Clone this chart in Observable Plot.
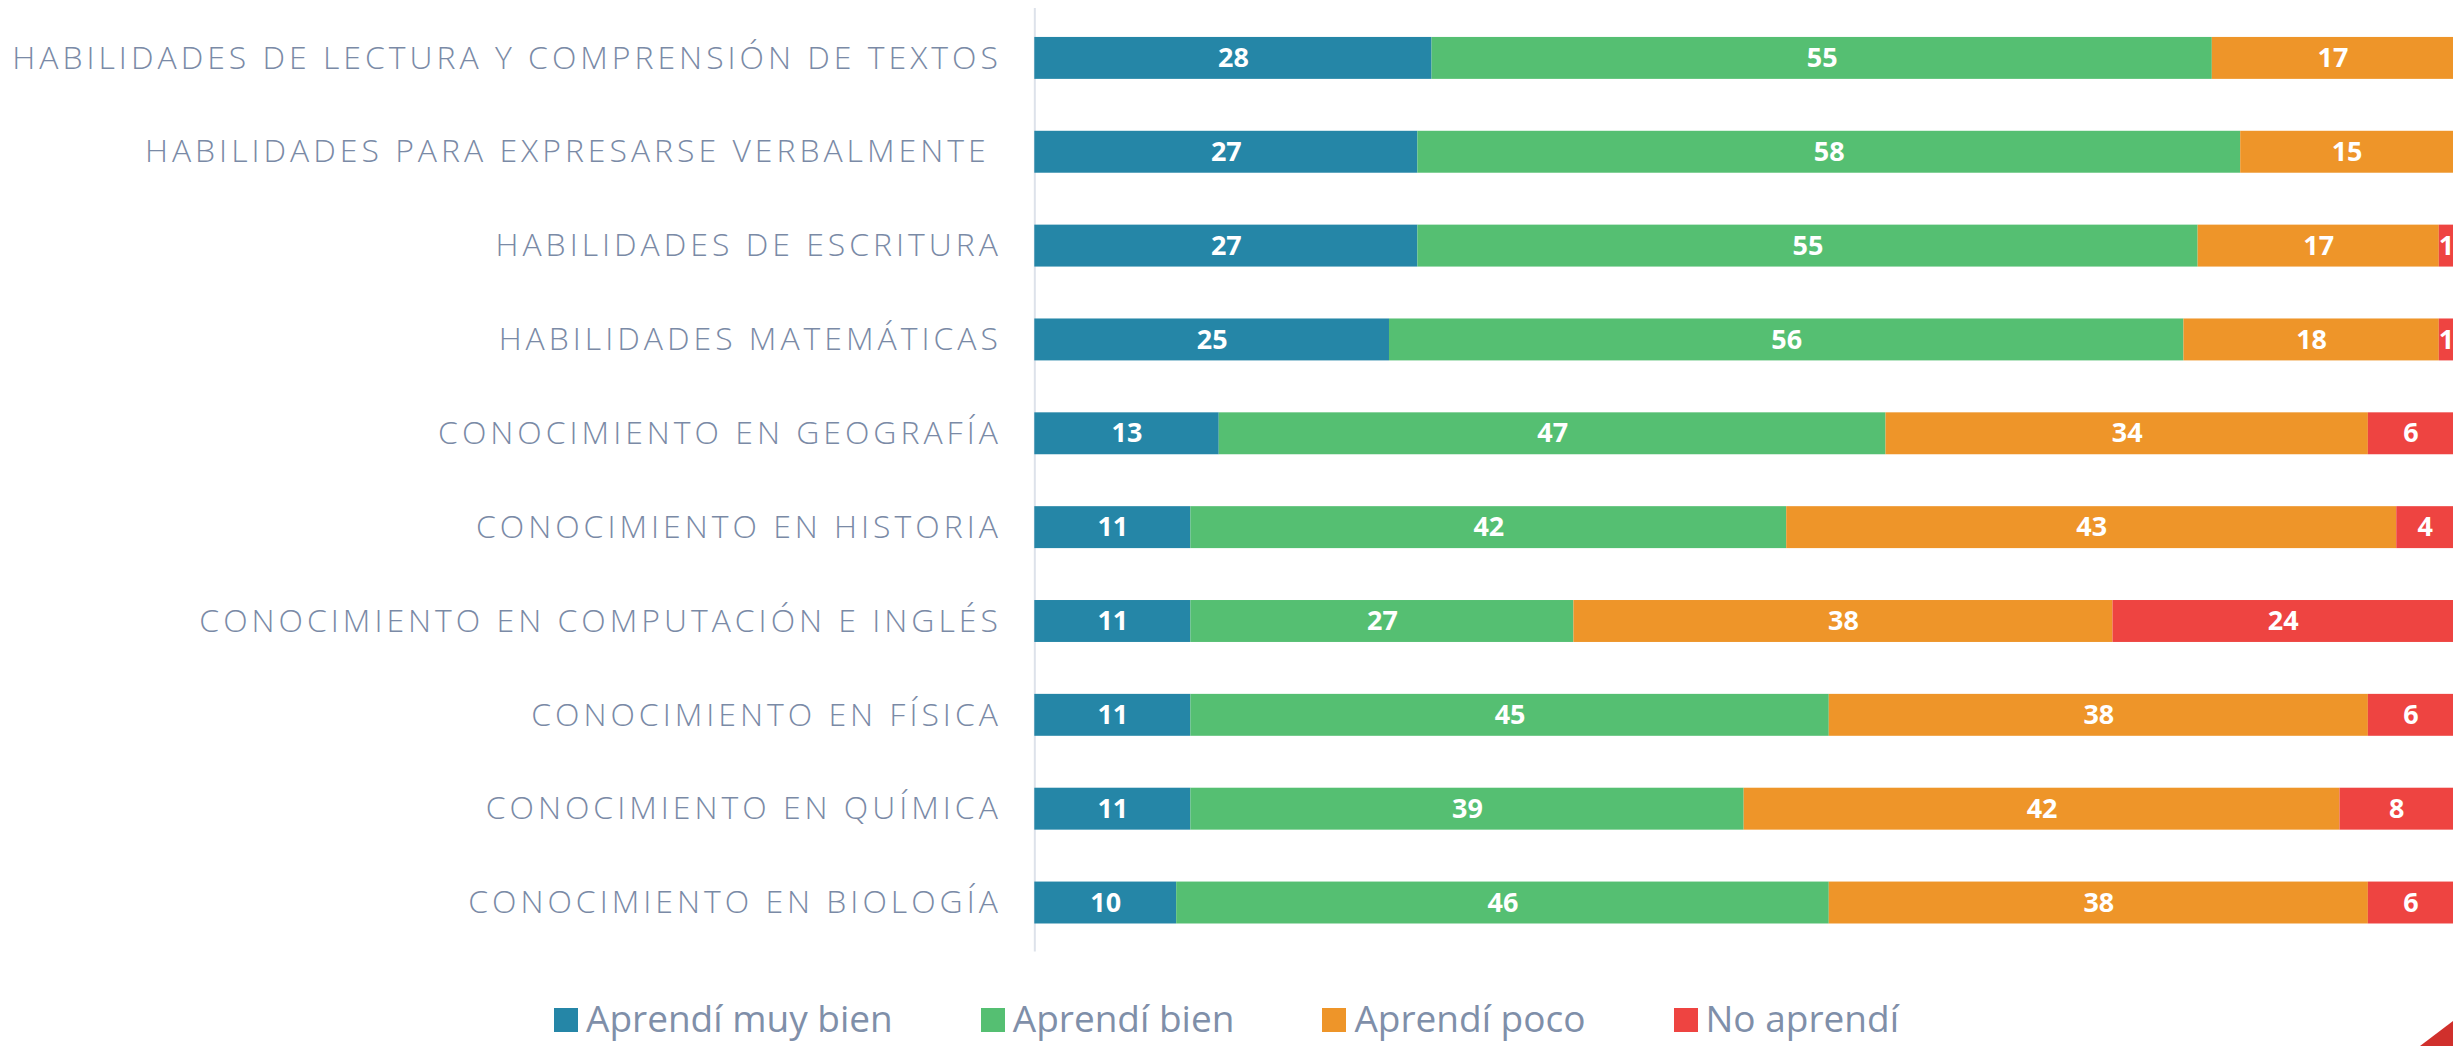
<!DOCTYPE html>
<html>
<head>
<meta charset="utf-8">
<script src="https://cdn.jsdelivr.net/npm/d3@7"></script>
<script src="https://cdn.jsdelivr.net/npm/@observablehq/plot@0.6"></script>
<style>
  html, body { margin: 0; padding: 0; background: #fff; overflow: hidden; width: 2453px; height: 1046px; }
  #chart svg { display: block; font-family: "Open Sans", sans-serif; }
  #chart svg [aria-label="y-axis tick label"] text { letter-spacing: 4px; font-weight: 300; }
  #legend { display: flex; justify-content: center; align-items: center; gap: 88px; margin-top: 42px; height: 40px;
            line-height: 40px; font-family: "Open Sans", sans-serif; font-size: 37px; color: #7f8fa9; width: 2453px; }
  #legend .item { display: flex; align-items: center; gap: 8px; }
  #legend .sw { width: 24px; height: 24px; display: inline-block; margin-top: 4px; }
  #corner { position: absolute; right: 0; bottom: 0; width: 33px; height: 25px; background: #d0302c;
            clip-path: polygon(100% 0, 100% 100%, 0 100%); }
</style>
</head>
<body>
<div id="chart"></div>
<div id="legend"></div>
<div id="corner"></div>
<script>
const categories = [
  "HABILIDADES DE LECTURA Y COMPRENSIÓN DE TEXTOS",
  "HABILIDADES PARA EXPRESARSE VERBALMENTE\u00a0",
  "HABILIDADES DE ESCRITURA",
  "HABILIDADES MATEMÁTICAS",
  "CONOCIMIENTO EN GEOGRAFÍA",
  "CONOCIMIENTO EN HISTORIA",
  "CONOCIMIENTO EN COMPUTACIÓN E INGLÉS",
  "CONOCIMIENTO EN FÍSICA",
  "CONOCIMIENTO EN QUÍMICA",
  "CONOCIMIENTO EN BIOLOGÍA"
];
const seriesNames = ["Aprendí muy bien", "Aprendí bien", "Aprendí poco", "No aprendí"];
const muyBien   = [28, 27, 27, 25, 13, 11, 11, 11, 11, 10];
const bien      = [55, 58, 55, 56, 47, 42, 27, 45, 39, 46];
const poco      = [17, 15, 17, 18, 34, 43, 38, 38, 42, 38];
const noAprendi = [0, 0, 1, 1, 6, 4, 24, 6, 8, 6];
const colors = ["#2586a7", "#55bf72", "#ee9529", "#ee4441"];

const seriesValues = [muyBien, bien, poco, noAprendi];
const data = [];
seriesNames.forEach((s, i) => {
  categories.forEach((c, j) => data.push({category: c, series: s, value: seriesValues[i][j]}));
});

const chart = Plot.plot({
  width: 2457,
  height: 958,
  marginLeft: 1036,
  marginRight: 0,
  marginTop: 8,
  marginBottom: 5,
  x: {domain: [0, 100], axis: null},
  y: {domain: categories, paddingInner: 0.556, paddingOuter: 0.278, label: null},
  color: {domain: seriesNames, range: colors},
  marks: [
    Plot.ruleX([0], {stroke: "#dde2ea", strokeWidth: 2}),
    Plot.barX(data, Plot.stackX({x: "value", y: "category", fill: "series", order: seriesNames})),
    Plot.text(data, Plot.stackX({x: "value", y: "category", z: "series", order: seriesNames,
      text: d => d.value > 0 ? String(d.value) : "",
      fill: "white", fontSize: 27, fontWeight: "bold"})),
    Plot.axisY({tickSize: 0, tickPadding: 33, fontSize: 32, fill: "#7a8aa6"})
  ]
});
document.getElementById("chart").appendChild(chart);

const legend = document.getElementById("legend");
seriesNames.forEach((s, i) => {
  const item = document.createElement("div");
  item.className = "item";
  const sw = document.createElement("span");
  sw.className = "sw";
  sw.style.background = colors[i];
  const t = document.createElement("span");
  t.textContent = s;
  item.appendChild(sw);
  item.appendChild(t);
  legend.appendChild(item);
});
</script>
</body>
</html>
